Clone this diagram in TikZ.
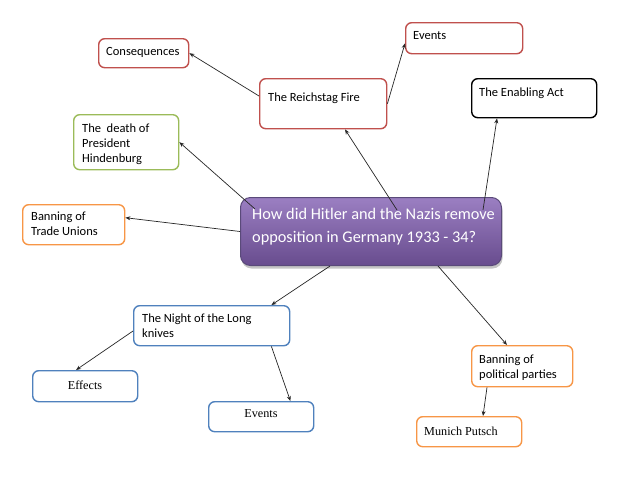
\documentclass[tikz,border=0pt]{standalone}
\usepackage{fontspec}
\setmainfont{Carlito}
\newfontfamily\serifbox{Liberation Serif}
\usetikzlibrary{arrows.meta,calc,shadows}
\definecolor{cred}{HTML}{C0504D}
\definecolor{cgreen}{HTML}{9BBB59}
\definecolor{corange}{HTML}{F79646}
\definecolor{cblue}{HTML}{4F81BD}
\definecolor{ptop}{HTML}{9B7FC2}
\definecolor{pbot}{HTML}{684C8E}
\definecolor{pedge}{HTML}{5A4A7A}
\tikzset{
  bx/.style={draw, line width=1.4pt, rounded corners=6pt, fill=white, inner sep=0pt, anchor=north west},
  txt/.style={inner sep=0pt, anchor=north west, align=left, font=\fontsize{12.5}{15.2}\selectfont, text=black},
  stxt/.style={inner sep=0pt, font=\serifbox\fontsize{12.2}{15}\selectfont, text=black},
  arr/.style={-{Stealth[length=5pt,width=4pt]}, line width=0.7pt, draw=black!85}
}
\begin{document}
\begin{tikzpicture}[x=1pt,y=-1pt]
\useasboundingbox[fill=white] (0,0) rectangle (640,480);
% boxes
\node[bx, draw=cred, minimum width=90pt, minimum height=29pt] (cons) at (98,38) {};
\node[txt] (tcons) at (106,47.5) {Consequences};
\node[bx, draw=cred, minimum width=117pt, minimum height=31pt] (evt) at (405,22) {};
\node[txt] (tevt) at (413,31.5) {Events};
\node[bx, draw=cred, minimum width=127pt, minimum height=50pt] (rf) at (259,78) {};
\node[txt] (trf) at (268,92.5) {The Reichstag Fire};
\node[bx, draw=black, minimum width=125pt, minimum height=39pt] (ena) at (471,78) {};
\node[txt] (tena) at (479,87.5) {The Enabling Act};
\node[bx, draw=cgreen, minimum width=105pt, minimum height=55pt] (hin) at (73,114) {};
\node[txt] (thin) at (82,123.5) {The\ \ death of\\President\\Hindenburg};
\node[bx, draw=corange, minimum width=102pt, minimum height=40pt] (tu) at (22,204) {};
\node[txt] (ttu) at (31,211.5) {Banning of\\Trade Unions};
\node[bx, draw=cblue, minimum width=156pt, minimum height=40pt] (nlk) at (133,305) {};
\node[txt] (tnlk) at (142,313.5) {The Night of the Long\\knives};
\node[bx, draw=cblue, minimum width=105pt, minimum height=31pt] (eff) at (32,370) {};
\node[stxt] (teff) at (85,385) {Effects};
\node[bx, draw=cblue, minimum width=105pt, minimum height=30pt] (ev2) at (208,401) {};
\node[stxt] (tev2) at (261,414) {Events};
\node[bx, draw=corange, minimum width=101pt, minimum height=41pt] (bpp) at (471,345) {};
\node[txt] (tbpp) at (479,354.5) {Banning of\\political parties};
\node[bx, draw=corange, minimum width=105pt, minimum height=30pt] (mun) at (416,416) {};
\node[stxt, anchor=west] (tmun) at (424,431) {Munich Putsch};
% central
\node[draw=pedge, line width=1pt, rounded corners=10pt, top color=ptop, bottom color=pbot,
      inner sep=0pt, anchor=north west, minimum width=261pt, minimum height=68pt,
      drop shadow={shadow xshift=1pt, shadow yshift=-3pt, fill=black!45}] (cen) at (240,197) {};
\node[inner sep=0pt, anchor=north west, align=left, text=white,
      font=\fontsize{16.3}{23}\selectfont] (tcen) at (252,208)
      {How did Hitler and the Nazis remove\\opposition in Germany 1933 - 34?};
% connectors
\draw[arr] ($(rf.north west)+(0,18)$) -- (cons.east);
\draw[arr] (rf.east) -- ($(evt.south west)+(0,-11)$);
\draw[arr] ($(cen.north west)+(15,12)$) -- (hin.east);
\draw[arr] (cen.west) -- ($(tu.east)+(0,-7)$);
\draw[arr] ($(cen.north west)+(157,13)$) -- ($(rf.south west)+(86,0)$);
\draw[arr] ($(cen.north east)+(-19,13)$) -- ($(ena.south west)+(26,0)$);
\draw[arr] ($(cen.south west)+(90,0)$) -- ($(nlk.north east)+(-19,0)$);
\draw[arr] ($(cen.south east)+(-64,0)$) -- ($(bpp.north west)+(36,0)$);
\draw[arr] ($(nlk.north west)+(0,26)$) -- ($(eff.north west)+(44,0)$);
\draw[arr] ($(nlk.south east)+(-19,0)$) -- ($(ev2.north east)+(-24,0)$);
\draw[arr] ($(bpp.south west)+(16,0)$) -- ($(mun.north west)+(67,0)$);
\end{tikzpicture}
\end{document}
